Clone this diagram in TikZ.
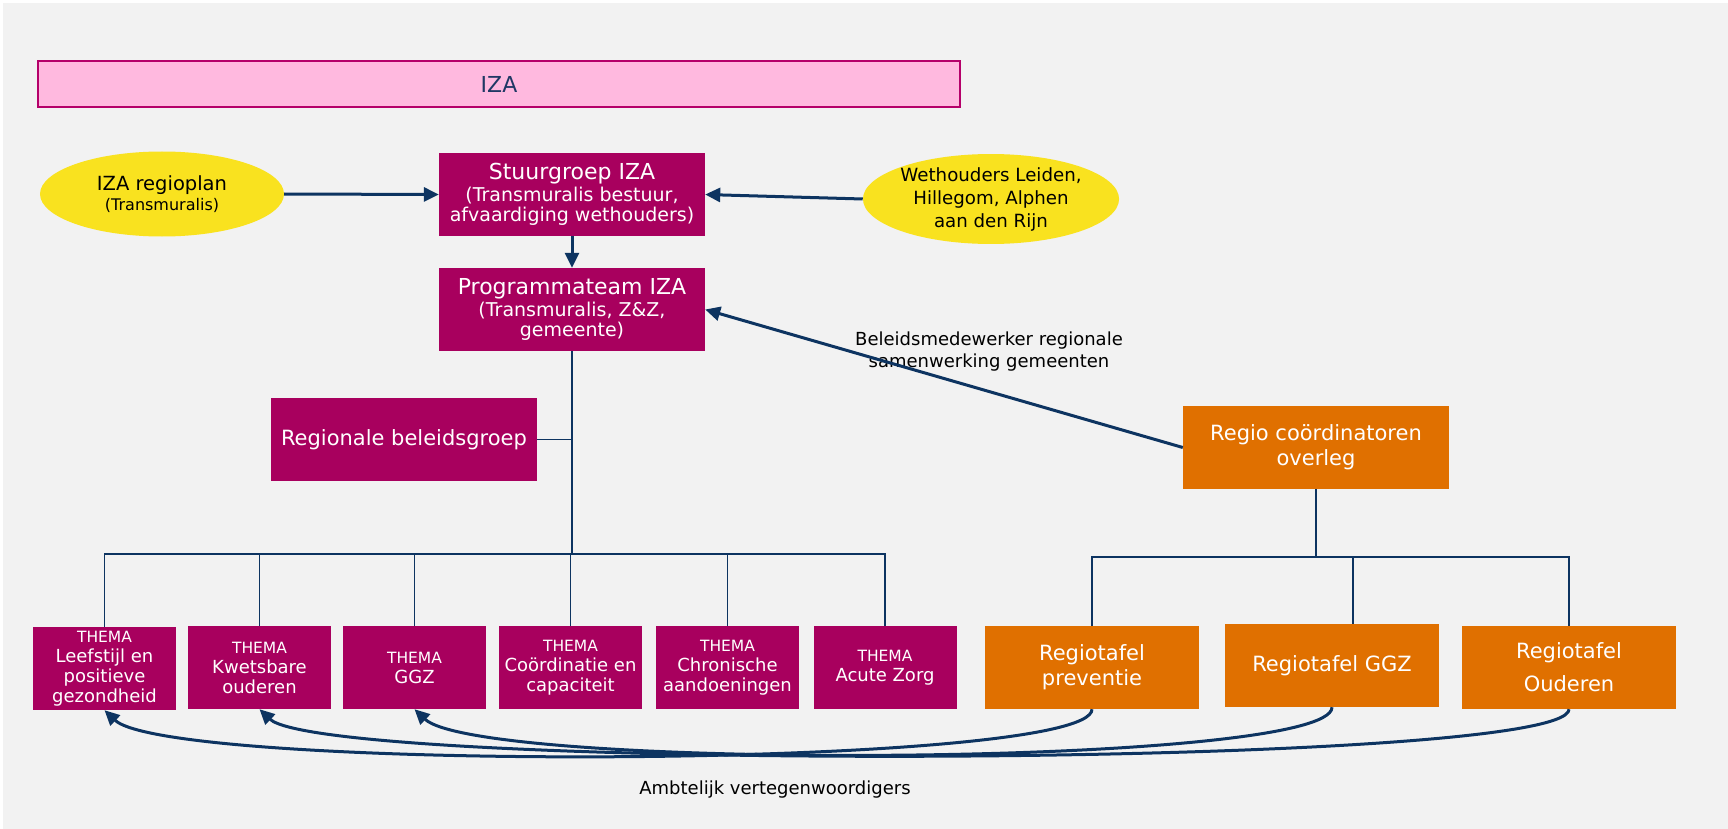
\documentclass[tikz,border=0pt]{standalone}
\usepackage{fontspec}
\setmainfont{DejaVu Sans}
\usetikzlibrary{arrows.meta,shapes.geometric,calc}
\definecolor{bgC}{HTML}{F2F2F2}
\definecolor{magC}{HTML}{A8005E}
\definecolor{orC}{HTML}{E07000}
\definecolor{yelC}{HTML}{F9E21F}
\definecolor{navC}{HTML}{0D3461}
\definecolor{pinkC}{HTML}{FFB9DF}
\definecolor{pinkB}{HTML}{B5006A}
\definecolor{izaT}{HTML}{1F3864}
\newcommand{\fs}[2]{\fontsize{#1}{#2}\selectfont}
\tikzset{
  magbox/.style={fill=magC, text=white, inner sep=0pt, align=center, minimum width=266pt, minimum height=83pt},
  thbox/.style={fill=magC, text=white, inner sep=0pt, align=center, minimum width=143pt, minimum height=83pt, font=\fs{18}{20}},
  orbox/.style={fill=orC, text=white, inner sep=0pt, align=center, minimum width=266pt, minimum height=83pt},
  rtbox/.style={fill=orC, text=white, inner sep=0pt, align=center, minimum width=214pt, minimum height=83pt, font=\fs{21}{25}},
  yell/.style={ellipse, fill=yelC, text=black, inner sep=0pt, align=center, minimum width=244pt, minimum height=85pt},
  tree/.style={draw=navC, line width=1.3pt},
  arr/.style={draw=navC, line width=3pt, -{Triangle[length=15pt,width=14pt]}},
  lbl/.style={text=black, align=center, font=\fs{18}{22}}
}
\begin{document}
\begin{tikzpicture}[x=1pt,y=-1pt]
\useasboundingbox (0,0) rectangle (1728,829);
\fill[bgC] (3,3) rectangle (1728,829);

% IZA bar
\node[draw=pinkB, line width=2pt, fill=pinkC, text=izaT, minimum width=922pt, minimum height=46pt, inner sep=0pt, font=\fs{22}{26}] (iza) at (499,84) {IZA};

% top row
\node[yell, font=\fs{16}{20}] (plan) at (162,194) {{\fs{19.5}{23}IZA regioplan}\\(Transmuralis)};
\node[magbox, font=\fs{19}{20.5}] (stuur) at (572,194.5) {{\fs{22}{24}Stuurgroep IZA}\\[1pt](Transmuralis bestuur,\\afvaardiging wethouders)};
\node[yell, minimum height=86pt, font=\fs{18.2}{23}] (weth) at (991,199) {Wethouders Leiden,\\Hillegom, Alphen\\aan den Rijn};
\node[magbox, font=\fs{19}{20.5}] (prog) at (572,309.5) {{\fs{22}{24}Programmateam IZA}\\[1pt](Transmuralis, Z\&Z,\\gemeente)};
\node[magbox, font=\fs{21}{25}] (beleid) at (404,439.5) {Regionale beleidsgroep};
\node[orbox, font=\fs{21}{25}] (regio) at (1316,447.5) {Regio coördinatoren\\overleg};

% thema boxes
\node[thbox] (t1) at (104.5,668.5) {{\fs{15.5}{20}THEMA}\\Leefstijl en\\positieve\\gezondheid};
\node[thbox] (t2) at (259.5,667.5) {{\fs{15.5}{22}THEMA}\\Kwetsbare\\ouderen};
\node[thbox] (t3) at (414.5,667.5) {{\fs{15.5}{24}THEMA}\\GGZ};
\node[thbox] (t4) at (570.5,667.5) {{\fs{15.5}{22}THEMA}\\Coördinatie en\\capaciteit};
\node[thbox] (t5) at (727.5,667.5) {{\fs{15.5}{22}THEMA}\\Chronische\\aandoeningen};
\node[thbox] (t6) at (885,667.5) {{\fs{15.5}{24}THEMA}\\Acute Zorg};

% regiotafels
\node[rtbox] (rp) at (1092,667.5) {Regiotafel\\preventie};
\node[rtbox] (rg) at (1332,665.5) {Regiotafel GGZ};
\node[rtbox, font=\fs{21}{33}] (ro) at (1569,667.5) {Regiotafel\\Ouderen};

% labels
\node[lbl] (l1) at (989,352) {Beleidsmedewerker regionale\\samenwerking gemeenten};
\node[lbl] (l2) at (775,790) {Ambtelijk vertegenwoordigers};

% tree (magenta)
\coordinate (jt) at (572,554);
\draw[tree] (prog.south) -- (jt);
\draw[tree] (beleid.east) -- (beleid.east -| jt);
\foreach \t in {t1,t2,t3,t5,t6} { \draw[tree] (\t.north) |- (jt); }
\draw[tree] (t4.north) -- (t4.north |- jt);

% tree (orange)
\coordinate (jo) at (1316,557);
\coordinate (rgtop) at ($(rg.north)+(21,0)$);
\draw[tree] (regio.south) -- (jo);
\draw[tree] (rp.north) |- (jo);
\draw[tree] (ro.north) |- (jo);
\draw[tree] (rgtop) |- (jo);

% arrows
\draw[arr] (plan.east) -- (stuur.west);
\draw[arr] (weth.west) -- (stuur.east);
\draw[arr] (stuur.south) -- (prog.north);
\draw[arr] (regio.west) -- (prog.east);

% curved arrows
\draw[arr] (rp.south) .. controls ($(rp.south)+(0,60)$) and ($(t1.south)+(65,62)$) .. (t1.south);
\draw[arr] (rg.south) .. controls ($(rg.south)+(0,60)$) and ($(t3.south)+(65,62)$) .. (t3.south);
\draw[arr] (ro.south) .. controls ($(ro.south)+(0,60)$) and ($(t2.south)+(65,62)$) .. (t2.south);
\end{tikzpicture}
\end{document}
